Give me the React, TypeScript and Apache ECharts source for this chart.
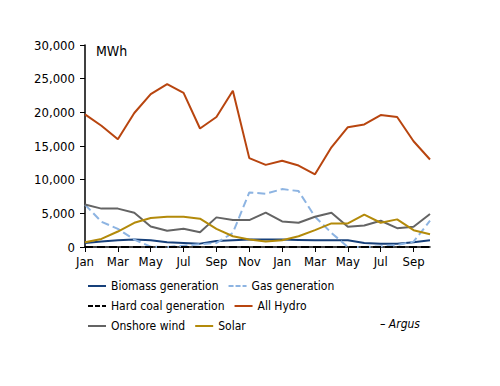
import React, { useEffect, useRef } from "react";
import * as echarts from "echarts";

const months = ["Jan","Feb","Mar","Apr","May","Jun","Jul","Aug","Sep","Oct","Nov","Dec","Jan","Feb","Mar","Apr","May","Jun","Jul","Aug","Sep","Oct"];
const biomass = [600,800,1000,1100,1000,700,600,500,900,1000,1100,1100,1100,1050,1000,1000,1000,600,500,500,700,1000];
const gas = [6300,3750,2700,1100,50,0,200,400,600,2100,8100,7900,8600,8300,4500,2100,0,0,100,300,800,3900];
const hardCoal = [0,0,0,0,0,0,0,0,0,0,0,0,0,0,0,0,0,0,0,0,0,0];
const hydro = [19700,18000,16000,19900,22700,24200,22900,17600,19300,23200,13200,12200,12800,12100,10800,14800,17800,18200,19600,19300,15700,13000];
const wind = [6300,5700,5700,5100,3050,2400,2700,2200,4400,4000,4000,5100,3800,3600,4500,5100,3000,3200,3900,2800,3000,4900];
const solar = [700,1200,2300,3600,4300,4500,4500,4200,2700,1600,1100,800,1000,1600,2500,3500,3500,4800,3600,4100,2500,1900];
const yTicks = [0, 5000, 10000, 15000, 20000, 25000, 30000];

const FONT = "'DejaVu Sans Condensed', 'DejaVu Sans', sans-serif";
const SOLID_ICON = "path://M0,0h18v2h-18z";
const DASH_ICON = "path://M0,0h5v2h-5z M7,0h5v2h-5z M14,0h4v2h-4z";

export default function App() {
  const ref = useRef<HTMLDivElement>(null);
  useEffect(() => {
    if (!ref.current) return;
    const chart = echarts.init(ref.current, null, { renderer: "svg" });
    const mk = (name: string, data: number[], color: string, type: string, width = 2, z = 2) => ({
      name, type: "line", data, symbol: "none", z,
      lineStyle: { color, width, type },
      itemStyle: { color },
    });
    const legendBase = {
      itemWidth: 18, itemHeight: 10, itemGap: 10,
      textStyle: { fontFamily: FONT, fontSize: 12, color: "#000", width: 118 },
    };
    const item = (name: string, dashed: boolean) => ({ name, icon: dashed ? DASH_ICON : SOLID_ICON });
    chart.setOption({
      animation: false,
      backgroundColor: "#fff",
      grid: { left: 85, right: 70, top: 45, bottom: 139 },
      xAxis: {
        type: "category", data: months, boundaryGap: false,
        axisLine: { lineStyle: { color: "#000", width: 1.5 } },
        axisTick: { show: true, interval: 1, length: 5, lineStyle: { color: "#000" } },
        axisLabel: { interval: 1, fontFamily: FONT, fontSize: 13, color: "#000", margin: 8 },
      },
      yAxis: {
        type: "value", min: yTicks[0], max: yTicks[yTicks.length - 1], interval: 5000,
        axisLine: { show: true, lineStyle: { color: "#000", width: 1.5 } },
        axisTick: { show: true, length: 5, lineStyle: { color: "#000" } },
        splitLine: { show: false },
        axisLabel: {
          fontFamily: FONT, fontSize: 13, color: "#000", margin: 10,
          formatter: (v: number) => v.toLocaleString("en-US"),
        },
      },
      legend: [
        { ...legendBase, left: 83, top: 275, data: [item("Biomass generation", false), item("Gas generation", true)] },
        { ...legendBase, left: 83, top: 295, data: [item("Hard coal generation", true), item("All Hydro", false)] },
        { ...legendBase, left: 83, top: 315, data: [item("Onshore wind", false), item("Solar", false)] },
      ],
      graphic: [
        { type: "text", left: 96, top: 44, style: { text: "MWh", fontFamily: FONT, fontSize: 14, fill: "#000" } },
        { type: "text", left: 380, top: 318, style: { text: "– Argus", fontFamily: FONT, fontSize: 12, fontStyle: "italic", fill: "#000" } },
      ],
      series: [
        mk("Biomass generation", biomass, "#17407a", "solid"),
        mk("Gas generation", gas, "#8db4e2", "dashed"),
        mk("Hard coal generation", hardCoal, "#000000", "dashed", 2, 3),
        mk("All Hydro", hydro, "#b8450f", "solid"),
        mk("Onshore wind", wind, "#646464", "solid"),
        mk("Solar", solar, "#b38a0a", "solid"),
      ],
    });
    return () => chart.dispose();
  }, []);
  return <div ref={ref} style={{ position: "fixed", left: 0, top: 0, width: 500, height: 386 }} />;
}
